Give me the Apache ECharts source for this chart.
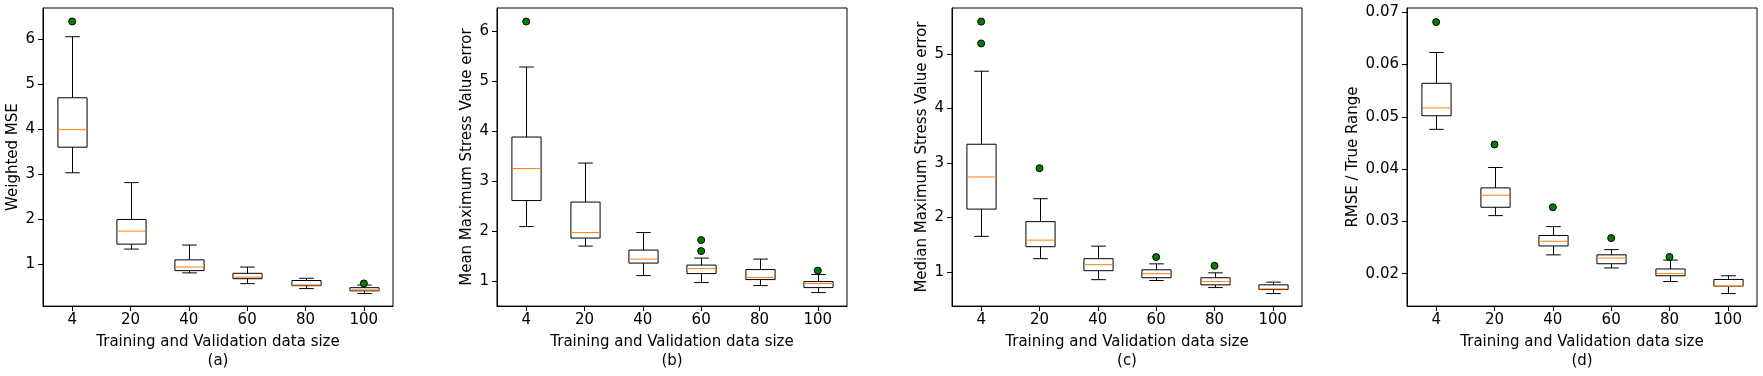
<!DOCTYPE html>
<html>
<head>
<meta charset="utf-8">
<script src="https://cdn.jsdelivr.net/npm/echarts@6/dist/echarts.min.js"></script>
<style>html,body{margin:0;padding:0;background:#fff}#c{width:1763px;height:376px}</style>
</head>
<body>
<div id="c"></div>
<script>
// Categories (x tick labels)
const categories = ['4', '20', '40', '60', '80', '100'];

// Box stats per category: [whiskerLow, Q1, median, Q3, whiskerHigh]
const boxA = [[3.03, 3.60, 3.99, 4.70, 6.06], [1.33, 1.44, 1.73, 1.99, 2.81], [0.80, 0.85, 0.93, 1.09, 1.42], [0.56, 0.67, 0.705, 0.79, 0.93], [0.45, 0.515, 0.53, 0.63, 0.68], [0.34, 0.40, 0.42, 0.47, 0.53]];
const outA = [[0, 6.40], [5, 0.565]];

const boxB = [[2.10, 2.62, 3.26, 3.89, 5.29], [1.71, 1.87, 1.98, 2.59, 3.37], [1.12, 1.37, 1.45, 1.63, 1.98], [0.98, 1.16, 1.26, 1.33, 1.47], [0.92, 1.04, 1.08, 1.24, 1.45], [0.78, 0.88, 0.96, 1.00, 1.14]];
const outB = [[0, 6.20], [3, 1.83], [3, 1.61], [5, 1.22]];

const boxC = [[1.65, 2.15, 2.74, 3.34, 4.68], [1.24, 1.46, 1.58, 1.92, 2.34], [0.855, 1.02, 1.13, 1.24, 1.47], [0.84, 0.89, 0.964, 1.036, 1.145], [0.71, 0.76, 0.82, 0.89, 0.98], [0.60, 0.674, 0.685, 0.76, 0.81]];
const outC = [[0, 5.59], [0, 5.19], [1, 2.90], [3, 1.27], [4, 1.11]];

const boxD = [[0.0476, 0.0502, 0.0517, 0.0564, 0.0623], [0.0311, 0.0327, 0.0350, 0.0364, 0.0403], [0.0236, 0.0253, 0.0262, 0.0273, 0.0290], [0.0211, 0.0219, 0.0230, 0.0236, 0.0246], [0.0185, 0.0196, 0.0200, 0.0209, 0.0226], [0.0162, 0.0176, 0.0176, 0.0189, 0.0196]];
const outD = [[0, 0.0681], [1, 0.0447], [2, 0.0327], [3, 0.0268], [4, 0.0232]];

// Axis ranges and tick values
const yRangeA = [0.06, 6.70], yTicksA = [1, 2, 3, 4, 5, 6];
const yRangeB = [0.51, 6.47], yTicksB = [1, 2, 3, 4, 5, 6];
const yRangeC = [0.37, 5.84], yTicksC = [1, 2, 3, 4, 5];
const yRangeD = [0.0138, 0.0708], yTicksD = [0.02, 0.03, 0.04, 0.05, 0.06, 0.07];

const yNames = ['Weighted MSE', 'Mean Maximum Stress Value error', 'Median Maximum Stress Value error', 'RMSE / True Range'];
const xName = 'Training and Validation data size';
const subLabels = ['(a)', '(b)', '(c)', '(d)'];

const FONT = 'DejaVu Sans';
const panels = [
  {box: boxA, out: outA, range: yRangeA, ticks: yTicksA, left: 43, gap: 22, fmt: v => String(v)},
  {box: boxB, out: outB, range: yRangeB, ticks: yTicksB, left: 497, gap: 22, fmt: v => String(v)},
  {box: boxC, out: outC, range: yRangeC, ticks: yTicksC, left: 952, gap: 22, fmt: v => String(v)},
  {box: boxD, out: outD, range: yRangeD, ticks: yTicksD, left: 1407, gap: 46, fmt: v => v.toFixed(2)}
];

function renderBox(params, api) {
  const x = api.value(0);
  const lo = api.coord([x, api.value(1)]);
  const q1 = api.coord([x, api.value(2)]);
  const md = api.coord([x, api.value(3)]);
  const q3 = api.coord([x, api.value(4)]);
  const hi = api.coord([x, api.value(5)]);
  const band = api.size([1, 0])[0];
  const bw = band * 0.5, cw = band * 0.25;
  const cx = Math.round(lo[0]) + 0.5;
  const s = {stroke: '#000', lineWidth: 1, fill: null};
  return {
    type: 'group',
    children: [
      {type: 'line', shape: {x1: cx, y1: lo[1], x2: cx, y2: q1[1]}, style: s},
      {type: 'line', shape: {x1: cx, y1: q3[1], x2: cx, y2: hi[1]}, style: s},
      {type: 'line', shape: {x1: cx - cw / 2, y1: lo[1], x2: cx + cw / 2, y2: lo[1]}, style: s},
      {type: 'line', shape: {x1: cx - cw / 2, y1: hi[1], x2: cx + cw / 2, y2: hi[1]}, style: s},
      {type: 'rect', shape: {x: cx - bw / 2, y: q3[1], width: bw, height: q1[1] - q3[1]}, style: {stroke: '#000', lineWidth: 1, fill: 'none'}},
      {type: 'line', shape: {x1: cx - bw / 2, y1: md[1], x2: cx + bw / 2, y2: md[1]}, style: {stroke: '#ff7f0e', lineWidth: 1}}
    ]
  };
}

const grid = [], xAxis = [], yAxis = [], series = [];
panels.forEach((p, i) => {
  grid.push({left: p.left, top: 8, width: 350, height: 302, show: true, borderColor: '#000', borderWidth: 1, backgroundColor: 'transparent', containLabel: false});
  xAxis.push({
    type: 'category', gridIndex: i, data: categories, boundaryGap: true,
    axisLine: {show: true, lineStyle: {color: '#000', width: 1}},
    axisTick: {show: true, alignWithLabel: true, length: 5, lineStyle: {color: '#000'}},
    axisLabel: {color: '#000', fontSize: 15, fontFamily: FONT, margin: 7},
    splitLine: {show: false},
    name: xName + '\n' + subLabels[i], nameLocation: 'middle', nameGap: 23,
    nameTextStyle: {color: '#000', fontSize: 15, fontFamily: FONT, lineHeight: 19}
  });
  yAxis.push({
    type: 'value', gridIndex: i, min: p.range[0], max: p.range[1],
    axisLine: {show: true, lineStyle: {color: '#000', width: 1}},
    axisTick: {show: true, length: 5, customValues: p.ticks, lineStyle: {color: '#000'}},
    axisLabel: {color: '#000', fontSize: 15, fontFamily: FONT, margin: 8, customValues: p.ticks, formatter: p.fmt},
    splitLine: {show: false},
    name: yNames[i], nameLocation: 'middle', nameRotate: 90, nameGap: p.gap,
    nameTextStyle: {color: '#000', fontSize: 15, fontFamily: FONT}
  });
  series.push({
    type: 'custom', xAxisIndex: i, yAxisIndex: i, renderItem: renderBox,
    encode: {x: 0, y: [1, 2, 3, 4, 5]},
    data: p.box.map((b, k) => [k].concat(b)), silent: true, z: 2
  });
  series.push({
    type: 'scatter', xAxisIndex: i, yAxisIndex: i, symbol: 'circle', symbolSize: 7,
    itemStyle: {color: '#007f00', borderColor: '#000', borderWidth: 1, opacity: 1},
    data: p.out, silent: true, z: 3
  });
});

const chart = echarts.init(document.getElementById('c'), null, {renderer: 'canvas'});
chart.setOption({animation: false, textStyle: {fontFamily: FONT}, grid, xAxis, yAxis, series});
</script>
</body>
</html>
